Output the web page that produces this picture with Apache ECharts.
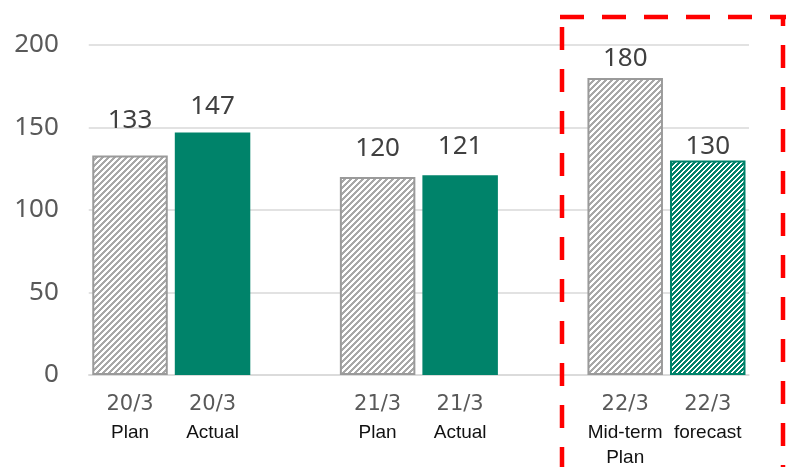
<!DOCTYPE html>
<html>
<head>
<meta charset="utf-8">
<style>
  html, body { margin: 0; padding: 0; background: #ffffff; }
  #chart { width: 788px; height: 467px; }
</style>
<script src="https://cdn.jsdelivr.net/npm/echarts@6/dist/echarts.min.js"></script>
</head>
<body>
<div id="chart"></div>
<script>
// Category slots: two bars per fiscal year, empty slot between groups
const periods = ['20/3', '20/3', '', '21/3', '21/3', '', '22/3', '22/3'];
const kinds = ['Plan', 'Actual', '', 'Plan', 'Actual', '', 'Mid-term\nPlan', 'forecast'];
const values = [133, 147, null, 120, 121, null, 180, 130];
// fill style per slot: 'plan' = grey hatch, 'actual' = solid green, 'forecast' = green hatch
const fills = ['plan', 'actual', null, 'plan', 'actual', null, 'plan', 'forecast'];
// extra gap between bar top and its value label
const labelGap = [22, 13, 0, 15.5, 16, 0, 6.5, 1];
const yTicks = { min: 0, max: 200, interval: 50 };

const GREEN = '#00836A';
const GREY_LINE = '#a8a8a8';

// crisp pixel hatch with upward (/) diagonal stripes
function makeHatch(color, period, stripe) {
  const c = document.createElement('canvas');
  c.width = period; c.height = period;
  const ctx = c.getContext('2d');
  ctx.fillStyle = '#ffffff';
  ctx.fillRect(0, 0, period, period);
  ctx.fillStyle = color;
  for (let y = 0; y < period; y++) {
    for (let x = 0; x < period; x++) {
      if ((x + y) % period < stripe) ctx.fillRect(x, y, 1, 1);
    }
  }
  return c;
}

const greyHatch = makeHatch(GREY_LINE, 6, 3);
const greenHatch = makeHatch(GREEN, 5, 3);

const styleFor = {
  plan: { color: { image: greyHatch, repeat: 'repeat' }, borderColor: '#9a9a9a', borderWidth: 2 },
  actual: { color: GREEN, borderWidth: 0 },
  forecast: { color: { image: greenHatch, repeat: 'repeat' }, borderColor: GREEN, borderWidth: 2 }
};

const barData = values.map((v, i) => {
  if (v == null) return '-';
  return {
    value: v,
    itemStyle: styleFor[fills[i]],
    label: { distance: labelGap[i] }
  };
});

const chart = echarts.init(document.getElementById('chart'), null, { renderer: 'canvas' });

chart.setOption({
  animation: false,
  grid: { left: 88.75, right: 39, top: 45, bottom: 92, containLabel: false },
  xAxis: {
    type: 'category',
    data: periods.map((p, i) => i),
    axisTick: { show: false },
    axisLine: { show: true, lineStyle: { color: '#d9d9d9', width: 1.5 } },
    axisLabel: {
      interval: 0,
      margin: 15,
      formatter: (val, idx) => {
        if (!periods[idx]) return '';
        return '{a|' + periods[idx] + '}\n{b|' + kinds[idx] + '}';
      },
      rich: {
        a: { fontFamily: 'DejaVu Sans', fontSize: 21, color: '#595959', lineHeight: 30 },
        b: { fontFamily: 'Liberation Sans', fontSize: 19, color: '#111111', lineHeight: 25 }
      }
    }
  },
  yAxis: {
    type: 'value',
    min: yTicks.min,
    max: yTicks.max,
    interval: yTicks.interval,
    axisLine: { show: false },
    axisTick: { show: false },
    splitLine: { lineStyle: { color: '#d9d9d9', width: 1.5 } },
    axisLabel: { fontFamily: 'Noto Sans', fontSize: 26, color: '#595959', margin: 30 }
  },
  series: [{
    type: 'bar',
    data: barData,
    barWidth: 75.5,
    label: {
      show: true,
      position: 'top',
      fontFamily: 'Noto Sans',
      fontSize: 26,
      color: '#404040'
    }
  }],
  graphic: [
    {
      type: 'line',
      shape: { x1: 560, y1: 17, x2: 786, y2: 17 },
      style: { stroke: '#ff0000', lineWidth: 4.5, lineDash: [24, 18] },
      z: 10
    },
    {
      type: 'line',
      shape: { x1: 562, y1: 27, x2: 562, y2: 480 },
      style: { stroke: '#ff0000', lineWidth: 4.5, lineDash: [23, 19] },
      z: 10
    },
    {
      type: 'line',
      shape: { x1: 783, y1: 17, x2: 783, y2: 480 },
      style: { stroke: '#ff0000', lineWidth: 4.5, lineDash: [23, 19], lineDashOffset: 14 },
      z: 10
    }
  ]
});
</script>
</body>
</html>
